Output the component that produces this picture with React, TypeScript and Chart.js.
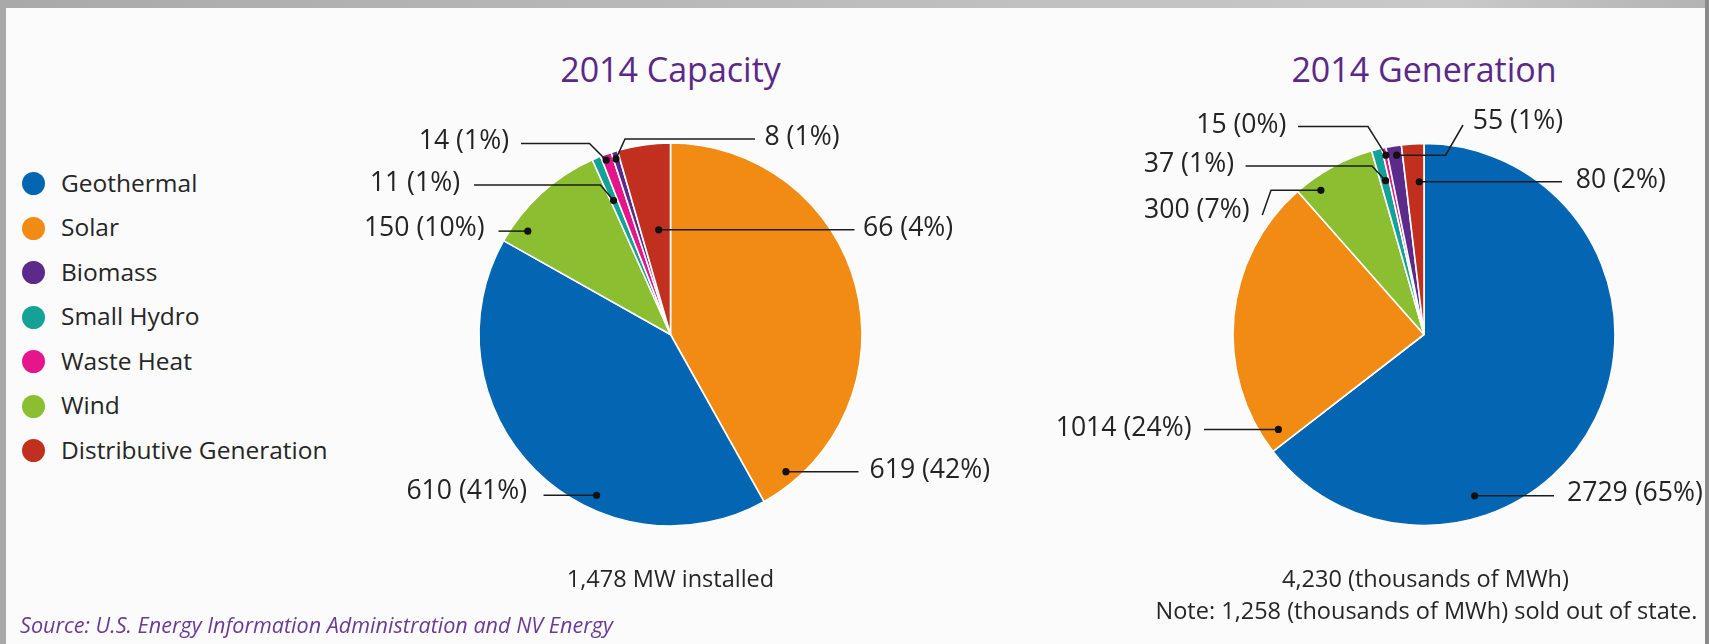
import React, { useEffect, useRef } from 'react';
import { Chart, registerables } from 'chart.js';

Chart.register(...registerables);

// ---------------- data ----------------
const legendCategories = ['Geothermal', 'Solar', 'Biomass', 'Small Hydro', 'Waste Heat', 'Wind', 'Distributive Generation'];

const capacityCategories = ['Solar', 'Geothermal', 'Wind', 'Small Hydro', 'Waste Heat', 'Biomass', 'Distributive Generation'];
const capacityValues = [619, 610, 150, 11, 14, 8, 66];

const generationCategories = ['Geothermal', 'Solar', 'Wind', 'Small Hydro', 'Waste Heat', 'Biomass', 'Distributive Generation'];
const generationValues = [2729, 1014, 300, 37, 15, 55, 80];

const chartTitles = ['2014 Capacity', '2014 Generation'];
const capacityNotes = ['1,478 MW installed'];
const generationNotes = ['4,230 (thousands of MWh)', 'Note: 1,258 (thousands of MWh) sold out of state.'];
const sourceText = 'Source: U.S. Energy Information Administration and NV Energy';

// ---------------- styles / layout ----------------
const W = 1709;
const H = 644;
const FONT = '"Open Sans", "Noto Sans", sans-serif';

const COLORS: Record<string, string> = {
  Geothermal: '#0466b3',
  Solar: '#f28b13',
  Biomass: '#5b2a8b',
  'Small Hydro': '#14a198',
  'Waste Heat': '#e5168c',
  Wind: '#8bbf31',
  'Distributive Generation': '#c1301f',
};

type Leader = {
  a: number; // angle fraction inside the slice
  rf: number; // radius fraction for the dot
  path: [number, number | null][]; // points relative to pie centre (null y = keep y)
  tx: number;
  ty: number;
  align: 'left' | 'right';
};

const capacityLeaders: Leader[] = [
  { a: 0.928, rf: 0.936, path: [[188, null]], tx: 199, ty: 136, align: 'left' },
  { a: 0.363, rf: 0.924, path: [[-127, null]], tx: -143.5, ty: 157, align: 'right' },
  { a: 0.18, rf: 0.92, path: [[-172, null]], tx: -186, ty: -106, align: 'right' },
  { a: 0.4, rf: 0.76, path: [[-70, -149.5], [-196.5, -149.5]], tx: -210.5, ty: -151, align: 'right' },
  { a: 0.35, rf: 0.97, path: [[-81, -191], [-149.5, -191]], tx: -161.5, ty: -193.5, align: 'right' },
  { a: 0.4, rf: 0.96, path: [[-45.5, -195.5], [84.5, -195.5]], tx: 94, ty: -197.5, align: 'left' },
  { a: 0.6, rf: 0.55, path: [[184, null]], tx: 192.5, ty: -106, align: 'left' },
];

const generationLeaders: Leader[] = [
  { a: 0.7, rf: 0.885, path: [[130, null]], tx: 143, ty: 158.8, align: 'left' },
  { a: 0.054, rf: 0.91, path: [[-220, null]], tx: -232.5, ty: 93.8, align: 'right' },
  { a: 0.23, rf: 0.928, path: [[-153, null], [-161.7, -119.5]], tx: -174.5, ty: -123.8, align: 'right' },
  { a: 0.6, rf: 0.83, path: [[-52, -168.5], [-178.4, -168.5]], tx: -190, ty: -170.5, align: 'right' },
  { a: 0.6, rf: 0.96, path: [[-56, -208], [-126, -208]], tx: -137.6, ty: -209, align: 'right' },
  { a: 0.6, rf: 0.95, path: [[21.6, null], [39, -209.5]], tx: 48.8, ty: -212.8, align: 'left' },
  { a: 0.74, rf: 0.8, path: [[138, null]], tx: 151.7, ty: -154.5, align: 'left' },
];

function makeLeaderPlugin(id: string, leaders: Leader[], values: number[]) {
  const total = values.reduce((s, v) => s + v, 0);
  return {
    id,
    afterDatasetsDraw(chart: any) {
      const ctx: CanvasRenderingContext2D = chart.ctx;
      const meta = chart.getDatasetMeta(0);
      ctx.save();
      meta.data.forEach((arc: any, i: number) => {
        const s = leaders[i];
        if (!s) return;
        const p = arc.getProps(['x', 'y', 'startAngle', 'endAngle', 'outerRadius'], true);
        const ang = p.startAngle + (p.endAngle - p.startAngle) * s.a;
        const r = p.outerRadius * s.rf;
        const dx = p.x + Math.cos(ang) * r;
        const dy = p.y + Math.sin(ang) * r;
        ctx.beginPath();
        ctx.moveTo(dx, dy);
        let py = dy;
        s.path.forEach(([ox, oy]) => {
          py = oy === null ? py : p.y + oy;
          ctx.lineTo(p.x + ox, py);
        });
        ctx.strokeStyle = '#1c1c1c';
        ctx.lineWidth = 1.5;
        ctx.stroke();
        ctx.beginPath();
        ctx.arc(dx, dy, 3.6, 0, Math.PI * 2);
        ctx.fillStyle = '#111';
        ctx.fill();
        const v = values[i];
        const label = `${v} (${Math.round((v / total) * 100)}%)`;
        ctx.font = `26.6px ${FONT}`;
        ctx.fillStyle = '#242424';
        ctx.textAlign = s.align;
        ctx.textBaseline = 'middle';
        ctx.fillText(label, p.x + s.tx, p.y + s.ty);
      });
      ctx.restore();
    },
  };
}

type PieProps = {
  categories: string[];
  values: number[];
  cx: number;
  cy: number;
  radius: number;
  leaders: Leader[];
  id: string;
};

function PieCanvas({ categories, values, cx, cy, radius, leaders, id }: PieProps) {
  const ref = useRef<HTMLCanvasElement>(null);
  useEffect(() => {
    const canvas = ref.current;
    if (!canvas) return;
    const BOX = 200;
    const chart = new Chart(canvas, {
      type: 'pie',
      data: {
        labels: categories,
        datasets: [
          {
            data: values,
            backgroundColor: categories.map((c) => COLORS[c]),
            borderColor: '#ffffff',
            borderWidth: 1.6,
            radius,
          } as any,
        ],
      },
      options: {
        responsive: false,
        animation: false,
        radius,
        layout: {
          padding: { left: cx - BOX, right: W - cx - BOX, top: cy - BOX, bottom: H - cy - BOX },
        },
        plugins: { legend: { display: false }, tooltip: { enabled: false } },
        events: [],
      } as any,
      plugins: [makeLeaderPlugin(id, leaders, values)],
    });
    return () => chart.destroy();
  }, []);
  return (
    <canvas
      ref={ref}
      width={W}
      height={H}
      style={{ position: 'absolute', left: 0, top: 0, width: W, height: H }}
    />
  );
}

type TextProps = {
  x: number;
  y: number;
  size: number;
  color?: string;
  align?: 'left' | 'center';
  italic?: boolean;
  weight?: number;
  children: React.ReactNode;
};

function Txt({ x, y, size, color = '#262626', align = 'left', italic, weight = 400, children }: TextProps) {
  return (
    <div
      style={{
        position: 'absolute',
        left: x,
        top: y,
        transform: `translate(${align === 'center' ? '-50%' : '0'}, -53%)`,
        fontFamily: FONT,
        fontSize: size,
        lineHeight: 1,
        color,
        fontStyle: italic ? 'italic' : 'normal',
        fontWeight: weight,
        whiteSpace: 'nowrap',
      }}
    >
      {children}
    </div>
  );
}

export default function App() {
  const capCx = 670.5;
  const genCx = 1424;
  const cy = 334.5;
  return (
    <div
      style={{
        position: 'absolute',
        left: 0,
        top: 0,
        width: W,
        height: H,
        background: '#fbfbfb',
        overflow: 'hidden',
      }}
    >
      <div style={{ position: 'absolute', left: 0, top: 0, width: W, height: 8, background: 'linear-gradient(90deg, #a9a9a9 0%, #bdbdbd 50%, #c9c9c9 85%, #b3b3b3 100%)' }} />
      <div style={{ position: 'absolute', left: 0, top: 0, width: 6, height: H, background: '#a9a9a9' }} />
      <div style={{ position: 'absolute', right: 0, top: 0, width: 4, height: H, background: '#8a8a8a' }} />

      <Txt x={capCx} y={70} size={34} color="#5a2987" align="center" weight={500}>{chartTitles[0]}</Txt>
      <Txt x={genCx} y={70} size={34} color="#5a2987" align="center" weight={500}>{chartTitles[1]}</Txt>

      {legendCategories.map((c, i) => (
        <React.Fragment key={c}>
          <div
            style={{
              position: 'absolute',
              left: 33 - 11.5,
              top: 183.5 + i * 44.5 - 11.5,
              width: 23,
              height: 23,
              borderRadius: '50%',
              background: COLORS[c],
            }}
          />
          <Txt x={61} y={183.5 + i * 44.5} size={24.5}>{c}</Txt>
        </React.Fragment>
      ))}

      <PieCanvas id="capLeaders" categories={capacityCategories} values={capacityValues} cx={capCx} cy={cy} radius={191.5} leaders={capacityLeaders} />
      <PieCanvas id="genLeaders" categories={generationCategories} values={generationValues} cx={genCx} cy={cy} radius={191} leaders={generationLeaders} />

      <Txt x={capCx} y={579} size={23.5} align="center">{capacityNotes[0]}</Txt>
      <Txt x={1425.5} y={579} size={23.5} align="center">{generationNotes[0]}</Txt>
      <Txt x={1426.5} y={611} size={23.5} align="center">{generationNotes[1]}</Txt>
      <Txt x={20} y={625} size={21.6} color="#6a3b98" italic>{sourceText}</Txt>
    </div>
  );
}
